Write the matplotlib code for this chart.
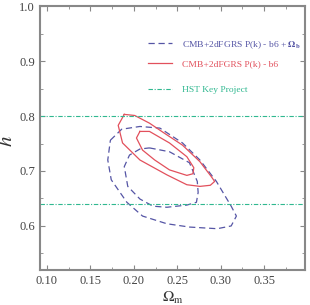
import matplotlib
matplotlib.use("Agg")
import matplotlib.pyplot as plt
from matplotlib.ticker import MultipleLocator

plt.rcParams['font.family'] = ['Liberation Serif', 'DejaVu Serif']
plt.rcParams['mathtext.fontset'] = 'stix'

# contours (Omega_m, h)
red95_om = [0.189, 0.201, 0.218, 0.233, 0.256, 0.276, 0.289, 0.293, 0.288, 0.276,
            0.261, 0.238, 0.207, 0.187, 0.182, 0.189]
red95_h = [0.803, 0.801, 0.787, 0.771, 0.747, 0.717, 0.690, 0.681, 0.674, 0.672,
           0.675, 0.693, 0.720, 0.751, 0.783, 0.803]

red68_om = [0.207, 0.218, 0.241, 0.261, 0.269, 0.268, 0.261, 0.241, 0.224, 0.210,
            0.203, 0.207]
red68_h = [0.772, 0.772, 0.751, 0.726, 0.706, 0.695, 0.692, 0.702, 0.720, 0.738,
           0.760, 0.772]

blue95_om = [0.173, 0.186, 0.207, 0.230, 0.256, 0.276, 0.295, 0.312, 0.318, 0.312,
             0.296, 0.264, 0.238, 0.210, 0.192, 0.174, 0.170, 0.173]
blue95_h = [0.756, 0.776, 0.781, 0.778, 0.751, 0.720, 0.681, 0.636, 0.618, 0.600,
            0.595, 0.598, 0.604, 0.618, 0.643, 0.684, 0.720, 0.756]

blue68_om = [0.218, 0.241, 0.264, 0.273, 0.274, 0.272, 0.261, 0.238, 0.222, 0.207,
             0.193, 0.189, 0.195, 0.207, 0.218]
blue68_h = [0.742, 0.735, 0.715, 0.681, 0.661, 0.643, 0.638, 0.634, 0.636, 0.649,
            0.672, 0.708, 0.729, 0.740, 0.742]

hst_h = [0.64, 0.80]

labels = [r'CMB+2dFGRS P(k) - b6 + $\mathbf{\Omega_b}$',
          'CMB+2dFGRS P(k) - b6',
          'HST Key Project']

blue = '#5555a5'
red = '#e2505c'
green = '#30b890'
grey = '#888888'

fig = plt.figure(figsize=(3.1, 3.05), dpi=100)
ax = fig.add_axes([0.129, 0.115, 0.855, 0.865])

b1, = ax.plot(blue95_om, blue95_h, color=blue, ls='--', lw=0.9, dashes=(5, 3))
ax.plot(blue68_om, blue68_h, color=blue, ls='--', lw=0.9, dashes=(5, 3))
r1, = ax.plot(red95_om, red95_h, color=red, lw=0.9)
ax.plot(red68_om, red68_h, color=red, lw=0.9)
for hv in hst_h:
    g1 = ax.axhline(hv, color=green, ls='-.', lw=0.8, dashes=(4, 1.5, 1, 1.5))

ax.set_xlim(0.092, 0.397)
ax.set_ylim(0.52, 1.0)
ax.xaxis.set_major_locator(MultipleLocator(0.05))
ax.xaxis.set_minor_locator(MultipleLocator(0.025))
ax.yaxis.set_major_locator(MultipleLocator(0.1))
ax.yaxis.set_minor_locator(MultipleLocator(0.05))
ax.xaxis.set_major_formatter(plt.FormatStrFormatter('%.2f'))
ax.yaxis.set_major_formatter(plt.FormatStrFormatter('%.1f'))
ax.tick_params(which='both', direction='in', top=True, right=True, color=grey,
               labelsize=9, labelcolor='#444444')
ax.tick_params(which='major', length=3.5)
ax.tick_params(which='minor', length=2.5)
for s in ax.spines.values():
    s.set_color(grey)
    s.set_linewidth(1.5)

ax.set_xlabel(r'$\Omega_{\rm m}$', fontsize=11, color='#333333')
ax.xaxis.set_label_coords(0.5, -0.075)
ax.set_ylabel(r'$h$', fontsize=15, color='#333333')
ax.yaxis.set_label_coords(-0.085, 0.49)

kw = dict(frameon=False, fontsize=6.8, handlelength=2.5, handletextpad=1.1,
          borderaxespad=0, labelcolor='linecolor', loc='center left')
leg1 = ax.legend([b1, r1], labels[:2], bbox_to_anchor=(0.393, 0.82),
                 labelspacing=0.95, **kw)
ax.add_artist(leg1)
ax.legend([g1], labels[2:], bbox_to_anchor=(0.393, 0.682), **kw)

fig.savefig('out.png', dpi=100)
